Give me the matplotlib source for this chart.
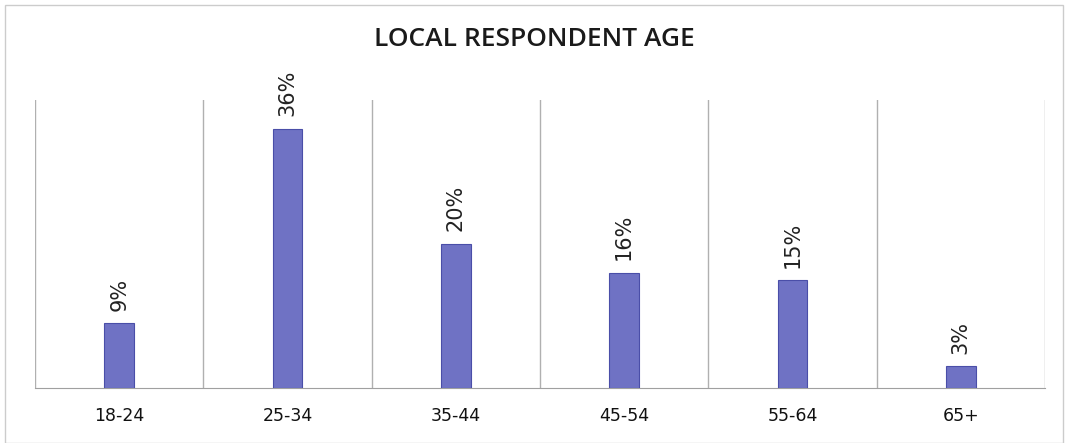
import matplotlib
matplotlib.use("Agg")
import matplotlib.pyplot as plt
from matplotlib.patches import Rectangle

categories = ["18-24", "25-34", "35-44", "45-54", "55-64", "65+"]
values = [9, 36, 20, 16, 15, 3]
labels = ["9%", "36%", "20%", "16%", "15%", "3%"]

fig = plt.figure(figsize=(10.68, 4.43), dpi=100)
ax = fig.add_axes([35/1068, 1 - 388/443, (1045-35)/1068, (388-100)/443])

x = range(len(categories))
ax.bar(x, values, width=0.175, color="#6f72c4", edgecolor="#4a4ea8", linewidth=0.8, zorder=3)
ax.set_xlim(-0.5, len(categories) - 0.5)
ax.set_ylim(0, 40)

for b in [i - 0.5 for i in range(len(categories) + 1)]:
    ax.axvline(b, color="#b0b0b0", linewidth=1, zorder=1)

for xi, v, lab in zip(x, values, labels):
    ax.annotate(lab, (xi, v), xytext=(0, 9), textcoords="offset points",
                rotation=90, ha="center", va="bottom", fontsize=15,
                family=["DejaVu Sans"], color="#222222")

ax.set_xticks(list(x))
ax.set_xticklabels(categories, fontsize=12.5, family=["DejaVu Sans"], color="#111111")
ax.tick_params(axis="x", length=0, pad=14)
ax.set_yticks([])
for s in ["top", "right", "left"]:
    ax.spines[s].set_visible(False)
ax.spines["bottom"].set_color("#a0a0a0")

fig.text(0.5, 1 - 40/443, "LOCAL RESPONDENT AGE", ha="center", va="center",
         fontsize=19, weight="semibold", family=["Open Sans", "DejaVu Sans"], color="#1a1a1a")

fig.add_artist(Rectangle((5/1068, 0.0), 1 - 10/1068, 1 - 5/443, transform=fig.transFigure,
                         fill=False, edgecolor="#cccccc", linewidth=1))

fig.savefig("out.png", dpi=100)
